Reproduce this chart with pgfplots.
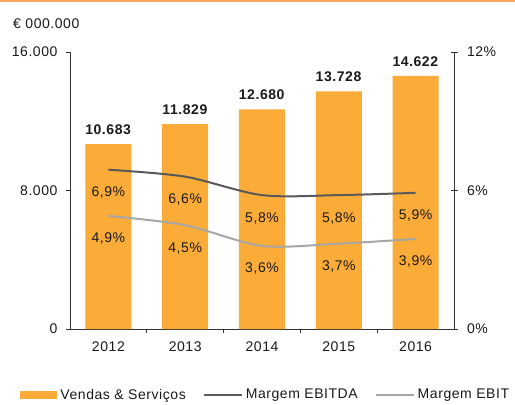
\documentclass[border=0pt]{standalone}
\usepackage{pgfplots}
\usepackage{pgfplotstable}
\pgfplotsset{compat=1.18}
\usepackage{fontspec}
\setmainfont{Liberation Sans}[LetterSpace=4]
\definecolor{barorange}{RGB}{251,171,55}
\definecolor{ebitda}{RGB}{89,89,89}
\definecolor{ebit}{RGB}{166,166,166}
\definecolor{topline}{RGB}{250,168,95}
\definecolor{txt}{RGB}{25,25,30}
\definecolor{axline}{RGB}{50,50,50}

\pgfplotstableread{
x year sales ebitda ebit
0 2012 10683 6.9 4.9
1 2013 11829 6.6 4.5
2 2014 12680 5.8 3.6
3 2015 13728 5.8 3.7
4 2016 14622 5.9 3.9
}\data

\pgfplotsset{
  /pgf/number format/assume math mode=true,
  every axis/.append style={font=\fontsize{14bp}{16bp}\selectfont},
}

\begin{document}
\begin{tikzpicture}[font=\fontsize{14bp}{16bp}\selectfont, text=txt]
\path[use as bounding box] (-70bp,-76bp) rectangle (445bp,329bp);
\draw[topline, line width=2bp] (-70bp,328bp) -- (445bp,328bp);
\node[anchor=west, inner sep=0pt] at (-57bp,305bp) {€ 000.000};

\begin{axis}[
  at={(0,0)}, anchor=south west,
  scale only axis, width=384bp, height=277bp,
  xmin=-0.5, xmax=4.5, ymin=0, ymax=16000,
  axis x line*=bottom, axis y line*=left,
  axis line style={axline, line width=0.8bp},
  every tick/.style={axline, line width=0.8bp},
  xtick={0,1,2,3,4}, xticklabels={2012,2013,2014,2015,2016},
  major x tick style={draw=none},
  minor xtick={0.5,1.5,2.5,3.5},
  minor tick length=4bp,
  major tick length=4bp,
  tick align=outside,
  ytick={0,8000,16000},
  scaled y ticks=false,
  yticklabel style={/pgf/number format/1000 sep={.}, xshift=-5bp},
  xticklabel style={yshift=-5bp},
  ybar, bar width=0.6,
  clip=false,
]
\addplot[fill=barorange, draw=none,
  nodes near coords={\textbf{\pgfmathprintnumber[fixed,precision=0,1000 sep={.}]{\pgfplotspointmeta}}},
  every node near coord/.append style={text=txt, yshift=6bp}]
  table[x=x, y=sales]{\data};
\end{axis}

\begin{axis}[
  at={(0,0)}, anchor=south west,
  scale only axis, width=384bp, height=277bp,
  xmin=-0.5, xmax=4.5, ymin=0, ymax=12,
  axis y line*=right, axis x line=none,
  axis line style={axline, line width=0.8bp},
  every tick/.style={axline, line width=0.8bp},
  ytick={0,6,12},
  yticklabel={\pgfmathprintnumber{\tick}\%},
  tick align=center, major tick length=7bp,
  yticklabel style={xshift=6bp},
  clip=false,
  legend columns=3,
  legend cell align=left,
  legend style={at={(-0.13,-0.238)}, anchor=west, draw=none, fill=none,
    inner sep=0pt,
    /tikz/every even column/.append style={column sep=15bp}},
]
\addlegendimage{legend image code/.code={\fill[barorange] (0bp,-3.5bp) rectangle (36bp,3.5bp); \path[draw=none,fill=none] (0bp,0bp) -- (38bp,0bp);}}
\addlegendentry{Vendas \& Serviços}
\addlegendimage{legend image code/.code={\draw[ebitda,line width=2bp] (0bp,0bp) -- (38bp,0bp); \path[draw=none,fill=none] (0bp,0bp) -- (40bp,0bp);}}
\addlegendentry{Margem EBITDA}
\addlegendimage{legend image code/.code={\draw[ebit,line width=2bp] (0bp,0bp) -- (38bp,0bp); \path[draw=none,fill=none] (0bp,0bp) -- (40bp,0bp);}}
\addlegendentry{Margem EBIT}

\addplot[ebitda, line width=2bp, smooth, no markers, forget plot,
  nodes near coords={\pgfmathprintnumber[fixed,fixed zerofill,precision=1,use comma]{\pgfplotspointmeta}\%},
  every node near coord/.append style={anchor=center, yshift=-23bp, text=txt}]
  table[x=x, y=ebitda]{\data};
\addplot[ebit, line width=2bp, smooth, no markers, forget plot,
  nodes near coords={\pgfmathprintnumber[fixed,fixed zerofill,precision=1,use comma]{\pgfplotspointmeta}\%},
  every node near coord/.append style={anchor=center, yshift=-23bp, text=txt}]
  table[x=x, y=ebit]{\data};
\end{axis}
\end{tikzpicture}
\end{document}
